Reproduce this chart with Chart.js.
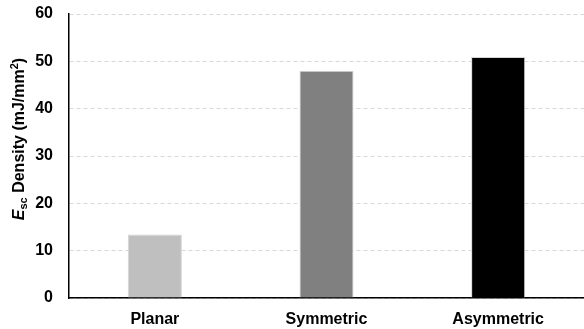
<!DOCTYPE html>
<html><head><meta charset="utf-8">
<script src="https://cdn.jsdelivr.net/npm/chart.js@4/dist/chart.umd.min.js"></script>
<style>html,body{margin:0;padding:0;background:#fff}#w{width:584px;height:329px}</style>
</head><body><div id="w"><canvas id="c"></canvas></div>
<script>
const categories = ["Planar", "Symmetric", "Asymmetric"];
const values = [13.4, 48.0, 50.9];
const barColors = ["#bfbfbf", "#808080", "#000000"];
const yTicks = [0, 10, 20, 30, 40, 50, 60];

const titlePlugin = {
  id: 'ytitle',
  afterDraw(chart) {
    const ctx = chart.ctx;
    const parts = [
      {t: "E", f: "italic bold 16px 'Liberation Sans', Arial", dy: 0},
      {t: "sc", f: "bold 11px 'Liberation Sans', Arial", dy: 3},
      {t: " Density (mJ/mm", f: "bold 16px 'Liberation Sans', Arial", dy: 0},
      {t: "2", f: "bold 11px 'Liberation Sans', Arial", dy: -6},
      {t: ")", f: "bold 16px 'Liberation Sans', Arial", dy: 0}
    ];
    let total = 0;
    parts.forEach(p => { ctx.font = p.f; p.w = ctx.measureText(p.t).width; total += p.w; });
    ctx.save();
    ctx.translate(24, 139);
    ctx.rotate(-Math.PI / 2);
    ctx.fillStyle = '#000';
    ctx.textBaseline = 'alphabetic';
    ctx.textAlign = 'left';
    let x = -total / 2;
    parts.forEach(p => { ctx.font = p.f; ctx.fillText(p.t, x, p.dy); x += p.w; });
    ctx.restore();
  }
};

new Chart(document.getElementById('c'), {
  type: 'bar',
  data: {
    labels: categories,
    datasets: [{
      data: values,
      backgroundColor: barColors,
      borderColor: '#d4d4d4',
      borderWidth: 1,
      categoryPercentage: 1,
      barPercentage: 0.315
    }]
  },
  options: {
    responsive: true,
    maintainAspectRatio: false,
    animation: false,
    layout: {padding: {top: 14, right: 0, bottom: 0, left: 0}},
    plugins: {legend: {display: false}, tooltip: {enabled: false}},
    scales: {
      x: {
        grid: {display: false, drawTicks: false},
        border: {color: '#000', width: 1.5},
        ticks: {color: '#000', padding: 12, font: {family: "'Liberation Sans', Arial", size: 16, weight: 'bold'}},
        afterFit(s) { s.height = 31; s.paddingLeft = 0; s.paddingRight = 0; }
      },
      y: {
        min: 0, max: 60,
        afterBuildTicks(s) { s.ticks = yTicks.map(v => ({value: v})); },
        grid: {color: '#d9d9d9', drawTicks: false},
        border: {color: '#000', width: 1.5, dash: [4, 3]},
        ticks: {color: '#000', padding: 16, font: {family: "'Liberation Sans', Arial", size: 16, weight: 'bold'}},
        afterFit(s) { s.width = 69; s.paddingTop = 0; s.paddingBottom = 0; }
      }
    }
  },
  plugins: [titlePlugin]
});
</script></body></html>
